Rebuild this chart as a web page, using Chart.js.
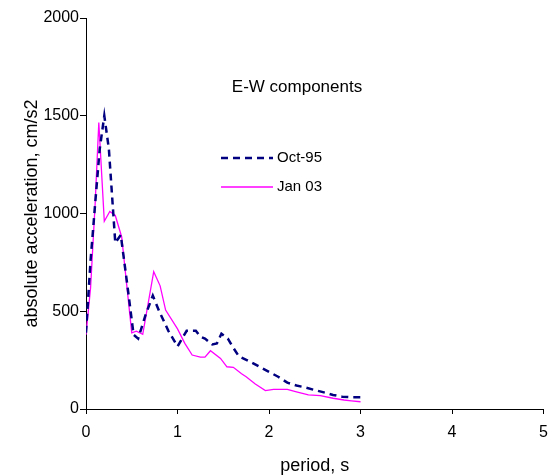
<!DOCTYPE html>
<html>
<head>
<meta charset="utf-8">
<script src="https://cdn.jsdelivr.net/npm/chart.js@4/dist/chart.umd.min.js"></script>
<style>
  html, body { margin: 0; padding: 0; background: #fff; }
  #wrap { width: 548px; height: 475px; }
</style>
</head>
<body>
<div id="wrap"><canvas id="chart"></canvas></div>
<script>
const chartTitle = "E-W components";
const xTitle = "period, s";
const yTitle = "absolute acceleration, cm/s2";

const octLabel = "Oct-95";
const octPeriods = [0, 0.05, 0.1, 0.15, 0.2, 0.25, 0.32, 0.38, 0.45, 0.52, 0.57, 0.65, 0.73, 0.8, 0.9, 1.0, 1.1, 1.2, 1.25, 1.3, 1.38, 1.43, 1.48, 1.55, 1.6, 1.67, 1.8, 1.9, 2.0, 2.1, 2.2, 2.3, 2.4, 2.5, 2.6, 2.7, 2.8, 2.9, 3.0];
const octValues = [390, 760, 1050, 1330, 1500, 1330, 850, 890, 640, 380, 360, 480, 580, 500, 400, 320, 400, 400, 370, 360, 330, 335, 385, 360, 320, 270, 240, 215, 190, 165, 135, 120, 110, 97, 85, 72, 63, 60, 60];

const janLabel = "Jan 03";
const janPeriods = [0, 0.05, 0.1, 0.14, 0.2, 0.26, 0.32, 0.39, 0.5, 0.55, 0.62, 0.74, 0.81, 0.87, 1.0, 1.08, 1.16, 1.25, 1.3, 1.36, 1.47, 1.54, 1.61, 1.7, 1.75, 1.85, 1.96, 2.05, 2.2, 2.3, 2.43, 2.56, 2.7, 2.82, 2.9, 3.0];
const janValues = [380, 620, 1050, 1465, 960, 1010, 990, 880, 390, 398, 382, 702, 630, 506, 410, 336, 276, 265, 265, 298, 259, 216, 213, 180, 165, 128, 94, 100, 100, 88, 72, 68, 55, 46, 42, 37];

const xTicks = [0, 1, 2, 3, 4, 5];
const yTicks = [0, 500, 1000, 1500, 2000];

const toPoints = (xs, ys) => xs.map((x, i) => ({ x: x, y: ys[i] }));

const fontName = "'Liberation Sans', Arial, sans-serif";

// title and legend are drawn inside the plot area, like the original
const insideText = {
  id: "insideText",
  afterDatasetsDraw(chart) {
    const ctx = chart.ctx;
    ctx.save();
    ctx.fillStyle = "#000";
    ctx.textBaseline = "middle";
    ctx.font = "17px " + fontName;
    ctx.textAlign = "center";
    ctx.fillText(chartTitle, 297, 87);

    ctx.font = "15px " + fontName;
    ctx.textAlign = "left";
    chart.data.datasets.forEach((ds, i) => {
      const y = 158 + i * 29;
      ctx.beginPath();
      ctx.strokeStyle = ds.borderColor;
      ctx.lineWidth = ds.borderWidth;
      ctx.setLineDash(ds.borderDash || []);
      ctx.moveTo(221, y);
      ctx.lineTo(273, y);
      ctx.stroke();
      ctx.setLineDash([]);
      ctx.fillText(ds.label, 277, y);
    });
    ctx.restore();
  },
};

new Chart(document.getElementById("chart"), {
  type: "line",
  data: {
    datasets: [
      {
        label: octLabel,
        data: toPoints(octPeriods, octValues),
        borderColor: "#000080",
        borderWidth: 2.5,
        borderDash: [7, 5],
        pointRadius: 0,
        tension: 0,
      },
      {
        label: janLabel,
        data: toPoints(janPeriods, janValues),
        borderColor: "#FF00FF",
        borderWidth: 1.3,
        pointRadius: 0,
        tension: 0,
      },
    ],
  },
  options: {
    responsive: true,
    maintainAspectRatio: false,
    animation: false,
    layout: { padding: { left: 0, right: 0, top: 18, bottom: 0 } },
    plugins: {
      legend: { display: false },
      tooltip: { enabled: false },
    },
    scales: {
      x: {
        type: "linear",
        min: 0,
        max: 5,
        afterBuildTicks: (scale) => {
          scale.ticks = xTicks.map((v) => ({ value: v }));
        },
        afterFit: (scale) => {
          scale.height = 66;
        },
        grid: {
          drawOnChartArea: false,
          drawTicks: true,
          tickLength: 5,
          color: "#000",
        },
        border: { display: true, color: "#000", width: 1 },
        ticks: {
          color: "#000",
          padding: 0,
          maxRotation: 0,
          callback: (value) => String(value),
          font: { family: fontName, size: 16, lineHeight: 2.3 },
        },
        title: {
          display: true,
          text: xTitle,
          color: "#000",
          padding: { top: 0, bottom: 0 },
          font: { family: fontName, size: 18, lineHeight: 1 },
        },
      },
      y: {
        min: 0,
        max: 2000,
        afterBuildTicks: (scale) => {
          scale.ticks = yTicks.map((v) => ({ value: v }));
        },
        afterFit: (scale) => {
          scale.width = 86;
        },
        grid: {
          drawOnChartArea: false,
          drawTicks: true,
          tickLength: 6,
          color: "#000",
        },
        border: { display: true, color: "#000", width: 1 },
        ticks: {
          color: "#000",
          padding: 1,
          callback: (value) => String(value),
          font: { family: fontName, size: 16 },
        },
        title: {
          display: true,
          text: yTitle,
          color: "#000",
          padding: { top: 23, bottom: 0 },
          font: { family: fontName, size: 18, lineHeight: 1 },
        },
      },
    },
  },
  plugins: [insideText],
});
</script>
</body>
</html>
